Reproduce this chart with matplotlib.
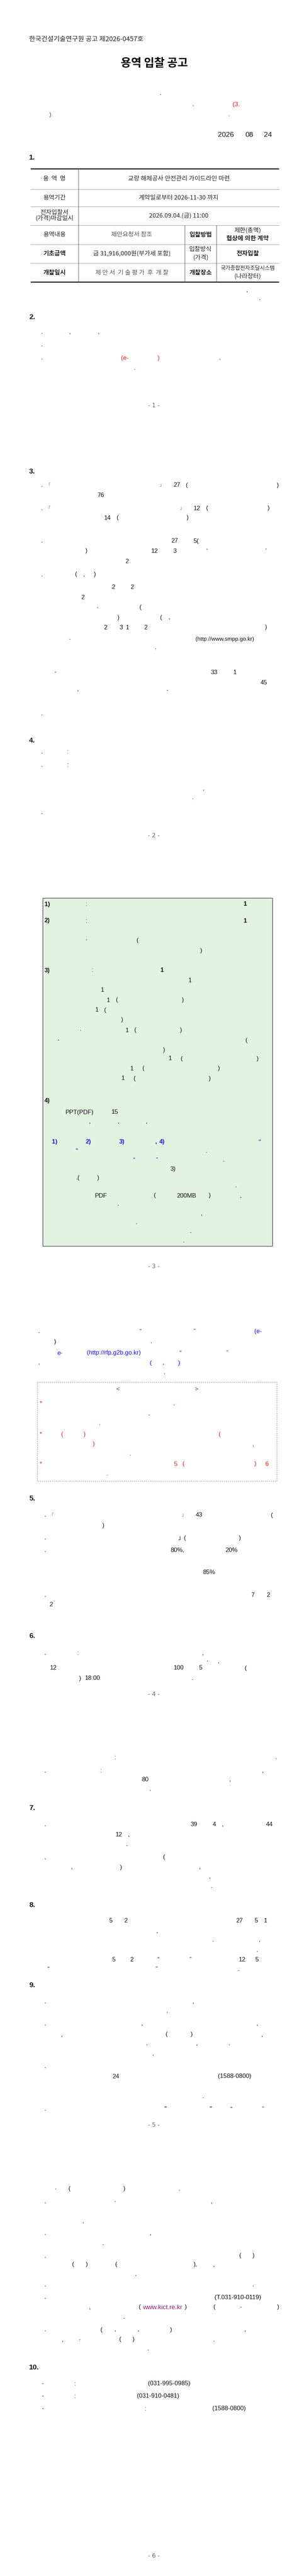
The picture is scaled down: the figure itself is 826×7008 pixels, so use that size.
import matplotlib
matplotlib.use('Agg')
import matplotlib.pyplot as plt
from matplotlib.patches import Rectangle

W, H = 826, 7008

# ---------------- DATA ----------------
header_text = "한국건설기술연구원 공고 제2026-0457호"
title_text = "용역 입찰 공고"
date_parts = [(614, "2026"), (677, "08"), (728, "24")]

section_labels = [("1.", 430), ("2.", 864), ("3.", 1283), ("4.", 2015), ("5.", 4078),
                  ("6.", 4451), ("7.", 4919), ("8.", 5183), ("9.", 5401), ("10.", 6441)]

page_numbers = [("- 1 -", 1104), ("- 2 -", 2274), ("- 3 -", 3446), ("- 4 -", 4610),
                ("- 5 -", 5782), ("- 6 -", 6954)]

table_rows_y = [459, 515, 562, 613, 665, 716, 767]
table_cols_x = [83, 213, 502, 588, 758]
table_cells = [
    (148, 487, "용  역  명", "normal", 12, "#222"),
    (486, 487, "교량 해체공사 안전관리 가이드라인 마련", "normal", 12, "#222"),
    (148, 538, "용역기간", "normal", 12, "#222"),
    (485, 538, "계약일로부터 2026-11-30 까지", "normal", 12, "#222"),
    (148, 579, "전자입찰서", "normal", 12, "#222"),
    (148, 594, "(가격)마감일시", "normal", 12, "#222"),
    (486, 587, "2026.09.04.(금) 11:00", "normal", 12, "#222"),
    (148, 639, "용역내용", "normal", 12, "#222"),
    (358, 639, "제안요청서 참조", "normal", 12, "#555"),
    (545, 639, "입찰방법", "bold", 12, "#222"),
    (673, 627, "제한(총액)", "normal", 12, "#222"),
    (673, 649, "협상에 의한 계약", "bold", 12, "#222"),
    (148, 690, "기초금액", "bold", 12, "#222"),
    (358, 690, "금 31,916,000원(부가세 포함)", "normal", 12, "#222"),
    (545, 679, "입찰방식", "normal", 12, "#222"),
    (545, 701, "(가격)", "normal", 12, "#222"),
    (673, 690, "전자입찰", "bold", 12, "#222"),
    (148, 742, "개찰일시", "bold", 12, "#222"),
    (358, 742, "제 안 서  기 술 평 가  후  개 찰", "normal", 12, "#555"),
    (545, 742, "개찰장소", "bold", 12, "#222"),
    (673, 730, "국가종합전자조달시스템", "normal", 10.5, "#222"),
    (673, 752, "(나라장터)", "normal", 12, "#222"),
]

intro_lines = [
    (253, [(436, ".")]),
    (284, [(525, ",", "r"), (642, "(3.", "r")]),
    (312, [(137, ")", "r"), (623, ".", "r")]),
    (789, [(671, ",")]),
    (812, [(706, ".")]),
]

sec2_lines = [
    (903, [(114, "."), (190, ",", "b"), (268, ",", "b")]),
    (938, [(114, ".")]),
    (974, [(114, "."), (339, "(e-", "r"), (431, ")", "r"), (597, ",", "r")]),
    (1001, [(366, ".", "r")]),
]

sec3_lines = [
    (1320, [(114, "."), (131, "「", "q"), (440, "」", "q"), (480, "27"), (508, "("), (755, ")")]),
    (1347, [(273, "76")]),
    (1383, [(114, "."), (131, "「", "q"), (495, "」", "q"), (535, "12"), (563, "("), (730, ")")]),
    (1409, [(292, "14"), (320, "("), (510, ")")]),
    (1472, [(114, "."), (474, "27"), (533, "5(")]),
    (1499, [(235, ")"), (420, "12"), (475, "3"), (563, "‘"), (723, "’")]),
    (1527, [(345, "2")]),
    (1563, [(114, "."), (207, "("), (228, ","), (258, ")")]),
    (1597, [(308, "2"), (359, "2")]),
    (1625, [(225, "2")]),
    (1653, [(266, "·"), (382, "(")]),
    (1680, [(322, ")"), (438, "("), (460, ",")]),
    (1707, [(287, "2"), (329, "3"), (346, "1"), (396, "2"), (723, ")")]),
    (1739, [(190, "·"), (611, "(http://www.smpp.go.kr)", "s")]),
    (1762, [(423, ".")]),
    (1829, [(150, "-"), (582, "33"), (638, "1")]),
    (1857, [(717, "45")]),
    (1884, [(212, "‘"), (455, "’")]),
    (1941, [(114, ".")]),
]

sec4_lines = [
    (2046, [(114, "."), (184, ":")]),
    (2081, [(114, "."), (184, ":")]),
    (2155, [(553, "'", "r")]),
    (2170, [(524, ".", "r")]),
    (2210, [(114, ".")]),
]

green_lines = [
    (2460, [(128, "1)", "kb"), (235, ":"), (667, "1", "kb")]),
    (2505, [(128, "2)", "kb"), (235, ":"), (667, "1", "kb")]),
    (2558, [(235, "·"), (374, "(")]),
    (2586, [(547, ")")]),
    (2640, [(128, "3)", "kb"), (251, ":"), (441, "1", "kb")]),
    (2667, [(516, "1")]),
    (2694, [(278, "1")]),
    (2721, [(294, "1"), (318, "("), (497, ")")]),
    (2748, [(263, "1"), (286, "(")]),
    (2775, [(332, ")")]),
    (2803, [(219, "·", "b"), (345, "1"), (368, "("), (492, ")")]),
    (2830, [(158, "-"), (670, "(")]),
    (2857, [(446, ")")]),
    (2880, [(462, "1"), (494, "("), (700, ")")]),
    (2907, [(358, "1"), (390, "("), (595, ")")]),
    (2934, [(334, "1"), (366, "("), (570, ")")]),
    (2994, [(128, "4)", "kb")]),
    (3026, [(216, "PPT(PDF)"), (312, "15")]),
    (3052, [(244, ","), (322, ","), (398, ",")]),
    (3107, [(148, "1)", "bb"), (240, "2)", "bb"), (331, "3)", "bb"), (424, ",", "bb"),
            (440, "4)", "bb"), (705, "\"", "b")]),
    (3131, [(208, "\"", "b"), (561, ".", "b")]),
    (3156, [(364, "“", "b"), (426, "”", "b"), (608, ".", "b")]),
    (3181, [(470, "3)")]),
    (3205, [(212, ".("), (267, ")")]),
    (3226, [(641, ".")]),
    (3253, [(274, "PDF"), (421, "("), (507, "200MB"), (570, ")"), (654, ",")]),
    (3276, [(321, ".")]),
    (3302, [(548, ",")]),
    (3326, [(371, ".")]),
    (3350, [(518, ".")]),
    (3375, [(499, ".")]),
]

after_green_lines = [
    (3622, [(106, "."), (381, "“", "b"), (528, "”", "b"), (701, "(e-", "b")]),
    (3650, [(150, ")"), (411, ".")]),
    (3681, [(163, "e-", "b"), (309, "(http://rfp.g2b.go.kr)", "b"), (490, "“", "b"), (617, "”", "b")]),
    (3708, [(106, "."), (410, "(", "b"), (444, ",", "b"), (487, ")", "b")]),
    (3733, [(447, ".")]),
]

notice_lines = [
    (3780, [(320, "<", "r"), (533, ">", "r")]),
    (3818, [(111, "*", "r"), (473, ",", "r")]),
    (3845, [(405, ",", "r")]),
    (3872, [(271, ".", "r")]),
    (3902, [(111, "*", "r"), (169, "(", "r"), (230, ")", "r"), (597, "(", "r")]),
    (3929, [(255, ")", "r"), (688, ",", "r")]),
    (3955, [(354, ".", "r")]),
    (3983, [(111, "*", "r"), (477, "5", "r"), (499, "(", "r"), (694, ")", "r"), (725, "6", "r")]),
    (4010, [(292, ".", "r")]),
]

sec5_lines = [
    (4122, [(123, "."), (140, "「", "q"), (500, "」", "q"), (541, "43"), (739, "(")]),
    (4150, [(281, ")")]),
    (4184, [(123, "."), (495, "」(")]),
    (4184, [(652, ")")]),
    (4218, [(123, "."), (482, "80%,"), (629, "20%")]),
    (4278, [(568, "85%")]),
    (4339, [(123, "."), (687, "7"), (729, "2")]),
    (4366, [(139, "2")]),
]

sec6_lines = [
    (4497, [(123, "."), (212, ":"), (551, ",")]),
    (4520, [(564, "·"), (594, ",")]),
    (4538, [(145, "12"), (486, "100"), (545, "5"), (668, "(")]),
    (4566, [(218, ")"), (252, "18:00"), (523, ".")]),
    (4782, [(313, ":"), (750, ".")]),
    (4817, [(123, "."), (274, ":"), (714, ",")]),
    (4842, [(394, "80"), (625, ",")]),
    (4868, [(408, ".")]),
]

sec7_lines = [
    (4963, [(123, "."), (527, "39"), (582, "4"), (605, ","), (732, "44")]),
    (4991, [(323, "12"), (350, ",")]),
    (5017, [(345, ".")]),
    (5053, [(123, "."), (446, "(")]),
    (5080, [(195, ","), (329, ")"), (543, ",")]),
    (5105, [(570, ",")]),
    (5132, [(575, ".")]),
]

sec8_lines = [
    (5226, [(301, "5"), (342, "2"), (650, "27"), (696, "5"), (721, "1")]),
    (5253, [(427, ",")]),
    (5278, [(579, "."), (705, ",")]),
    (5306, [(699, ".")]),
    (5331, [(309, "5"), (358, "2"), (430, "“"), (517, "”"), (658, "12"), (698, "5")]),
    (5357, [(131, "“"), (425, "”"), (648, ".")]),
]

sec9_lines = [
    (5445, [(123, "."), (525, ",")]),
    (5472, [(454, ".")]),
    (5506, [(123, "."), (386, ","), (699, ",")]),
    (5535, [(168, ","), (453, "("), (521, ")"), (712, ",")]),
    (5560, [(399, "."), (535, ","), (623, ".")]),
    (5588, [(416, ".")]),
    (5622, [(123, ".")]),
    (5649, [(314, "24"), (637, "(1588-0800)")]),
    (5703, [(552, ".")]),
    (5738, [(123, "."), (449, "\""), (572, "\""), (628, "“"), (714, "”")]),
    (5955, [(152, "·"), (189, "("), (338, ")"), (487, ".")]),
    (5989, [(123, "."), (313, "·"), (575, ",")]),
    (6043, [(226, ".")]),
    (6076, [(123, "."), (409, ",")]),
    (6103, [(280, ".")]),
    (6137, [(123, "."), (653, "("), (689, ")")]),
    (6161, [(199, "("), (236, ")"), (316, "("), (531, "),"), (581, ",")]),
    (6188, [(369, ".")]),
    (6215, [(123, "."), (688, ".")]),
    (6250, [(123, "."), (646, "(T.031-910-0119)")]),
    (6277, [(244, ","), (380, "("), (442, "www.kict.re.kr", "p"), (505, ")"),
            (583, "("), (654, "-"), (756, ")")]),
    (6303, [(337, ".")]),
    (6338, [(123, "."), (276, "("), (313, ","), (376, ","), (465, ")"), (666, ",")]),
    (6365, [(170, ","), (217, "·"), (327, "("), (363, ")"), (581, ".")]),
    (6390, [(402, ".")]),
]

sec10_lines = [
    (6485, [(116, "-"), (204, ":"), (460, "(031-995-0985)")]),
    (6519, [(116, "-"), (204, ":"), (429, "(031-910-0481)")]),
    (6553, [(116, "-"), (395, ":"), (622, "(1588-0800)")]),
]

# ---------------- DRAWING ----------------
KR = ['Noto Sans CJK KR', 'DejaVu Sans']
LAT = ['Liberation Sans', 'Noto Sans CJK KR', 'DejaVu Sans']

STY = {
    'k':  dict(color='#111111', fontsize=12, fontweight='normal'),
    'kb': dict(color='#111111', fontsize=12, fontweight='bold'),
    'r':  dict(color='#ff1414', fontsize=12, fontweight='normal'),
    'b':  dict(color='#1414ff', fontsize=12, fontweight='normal'),
    'bb': dict(color='#1414ff', fontsize=12, fontweight='bold'),
    'p':  dict(color='#8b1a8b', fontsize=12.5, fontweight='normal'),
    's':  dict(color='#111111', fontsize=11, fontweight='normal'),
    'q':  dict(color='#777777', fontsize=9, fontweight='normal'),
}

fig = plt.figure(figsize=(W / 100, H / 100), dpi=100)
fig.patch.set_facecolor('white')
ax = fig.add_axes([0, 0, 1, 1])
ax.set_xlim(0, W)
ax.set_ylim(H, 0)
ax.axis('off')


def draw_lines(lines):
    for y, items in lines:
        for it in items:
            x, t = it[0], it[1]
            st = STY[it[2] if len(it) > 2 else 'k']
            ax.text(x, y, t, ha='center', va='center', family=LAT, **st)


# header / title
ax.text(79, 107, header_text, ha='left', va='center', family=KR, fontsize=13, color='#222222')
ax.text(419, 172, title_text, ha='center', va='center', family=KR, fontsize=22,
        fontweight='bold', color='#000000')
for x, t in date_parts:
    ax.text(x, 367, t, ha='center', va='center', family=LAT, fontsize=14, color='#111111')

# section labels
for t, y in section_labels:
    ax.text(79, y, t, ha='left', va='center', family=LAT, fontsize=14,
            fontweight='bold', color='#111111')

# page numbers
for t, y in page_numbers:
    ax.text(418, y, t, ha='center', va='center', family=['DejaVu Sans'], fontsize=11.5,
            color='#666666')

# table
x0, x1 = table_cols_x[0], table_cols_x[-1]
for i, y in enumerate(table_rows_y):
    if i in (0, len(table_rows_y) - 1):
        ax.plot([x0, x1], [y, y], color='#111111', lw=2.0, solid_capstyle='butt')
    else:
        ax.plot([x0, x1], [y, y], color='#9a9a9a', lw=0.8)
ax.plot([table_cols_x[1]] * 2, [table_rows_y[0], table_rows_y[-1]], color='#555555', lw=0.8)
for cx in table_cols_x[2:4]:
    ax.plot([cx, cx], [table_rows_y[3], table_rows_y[-1]], color='#555555', lw=0.8)
for cx, cy, t, wt, fs, col in table_cells:
    ax.text(cx, cy, t, ha='center', va='center', family=KR, fontsize=fs,
            fontweight=wt, color=col)

# green box
ax.add_patch(Rectangle((116, 2443), 740 - 116, 3390 - 2443, facecolor='#e2f2e0',
                       edgecolor='#333333', lw=1.0, zorder=0))
# dashed notice box
ax.add_patch(Rectangle((101, 3760), 752 - 101, 4029 - 3760, facecolor='none',
                       edgecolor='#8a8a8a', lw=0.8, linestyle=(0, (3, 2)), zorder=0))

for block in (intro_lines, sec2_lines, sec3_lines, sec4_lines, green_lines,
              after_green_lines, notice_lines, sec5_lines, sec6_lines, sec7_lines,
              sec8_lines, sec9_lines, sec10_lines):
    draw_lines(block)

fig.savefig('out.png', dpi=100, facecolor='white')
